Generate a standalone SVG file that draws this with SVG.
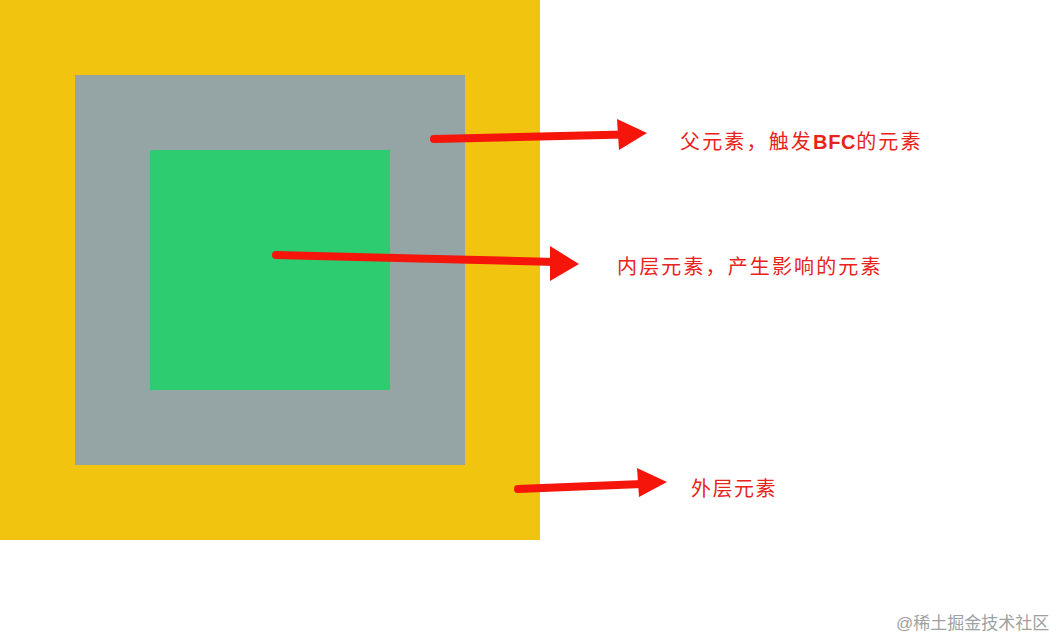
<svg xmlns="http://www.w3.org/2000/svg" width="1062" height="638" viewBox="0 0 1062 638">
<style>
.lbl{font-family:"Liberation Sans","Noto Sans CJK SC",sans-serif;font-size:20px;fill:#e8231a;letter-spacing:1.5px}
.b{font-weight:bold;letter-spacing:0}
.wm{font-family:"Liberation Sans","Noto Sans CJK SC",sans-serif;font-size:17px;fill:#a0a0a0}
.shaft{stroke:#f5150a;stroke-width:8;stroke-linecap:round;fill:none}
.head{fill:#f5150a}
</style>
<rect width="1062" height="638" fill="#ffffff"/>
<g id="outer"><rect x="0" y="0" width="540" height="540" fill="#f1c40f"/></g>
<g id="parent"><rect x="75" y="75" width="390" height="390" fill="#95a5a6"/></g>
<g id="inner"><rect x="150" y="150" width="240" height="240" fill="#2ecc71"/></g>
<g id="connectors">
<path class="shaft" d="M434,139 L625,134.5"/>
<polygon class="head" points="617,119 647,133 619,150"/>
<path class="shaft" d="M276,255 L555,262"/>
<polygon class="head" points="550,246 579,264 550,281"/>
<path class="shaft" d="M518,489 L642,484"/>
<polygon class="head" points="637,468 667,482 639,497"/>
</g>
<g id="label1"><text class="lbl" x="680" y="149" textLength="242">父元素，触发<tspan class="b">BFC</tspan>的元素</text></g>
<g id="label2"><text class="lbl" x="617" y="274" textLength="265">内层元素，产生影响的元素</text></g>
<g id="label3"><text class="lbl" x="691" y="496" textLength="86">外层元素</text></g>
<text class="wm" x="896" y="629">@稀土掘金技术社区</text>
</svg>
